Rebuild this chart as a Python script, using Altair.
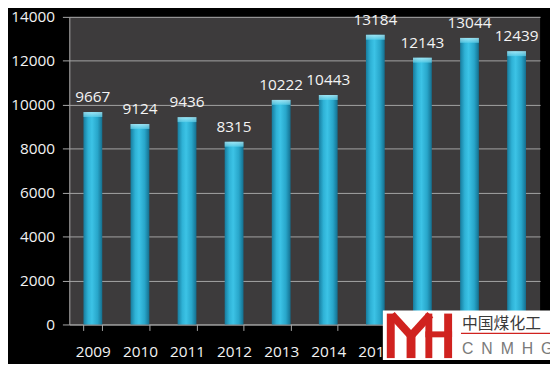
import altair as alt
import pandas as pd

years = ["2009", "2010", "2011", "2012", "2013", "2014", "2015", "2016", "2017", "2018"]
values = [9667, 9124, 9436, 8315, 10222, 10443, 13184, 12143, 13044, 12439]
y_ticks = [0, 2000, 4000, 6000, 8000, 10000, 12000, 14000]

df = pd.DataFrame({"year": years, "value": values})

FONT = "Open Sans"
RED = "#d0221f"

xenc = alt.X(
    "year:O",
    sort=years,
    scale=alt.Scale(paddingInner=0.6, paddingOuter=0.3),
    axis=alt.Axis(
        title=None, labelAngle=0, tickBand="extent", tickSize=6,
        labelPadding=14, labelFontSize=15.5, labelColor="#f2f2f2", labelFont=FONT,
        domainColor="#a9a9a9", tickColor="#a9a9a9", grid=False,
    ),
)
yenc = alt.Y(
    "value:Q",
    scale=alt.Scale(domain=[0, 14000], nice=False),
    axis=alt.Axis(
        title=None, values=y_ticks, format="d", tickSize=7, labelPadding=8,
        labelFontSize=15.5, labelColor="#f2f2f2", labelFont=FONT,
        domainColor="#a9a9a9", tickColor="#a9a9a9",
        grid=True, gridColor="#a4a4a4", gridWidth=1,
    ),
)

base = alt.Chart(df)

bars = base.mark_bar(
    size=19,
    color={
        "gradient": "linear", "x1": 0, "x2": 1, "y1": 0, "y2": 0,
        "stops": [
            {"offset": 0, "color": "#177c9e"},
            {"offset": 0.25, "color": "#2fb2d6"},
            {"offset": 0.45, "color": "#3cc3e6"},
            {"offset": 0.75, "color": "#28a6ca"},
            {"offset": 1, "color": "#146f8f"},
        ],
    },
).encode(x=xenc, y=yenc)

caps = base.mark_tick(
    size=19, thickness=5, yOffset=2.5,
    color={
        "gradient": "linear", "x1": 0, "x2": 0, "y1": 0, "y2": 1,
        "stops": [
            {"offset": 0, "color": "#c8f4fb"},
            {"offset": 1, "color": "#5fd0ea"},
        ],
    },
).encode(x=alt.X("year:O", sort=years), y="value:Q")

labels = base.mark_text(
    font=FONT, fontSize=15.5, color="#f4f4f4", baseline="alphabetic", dy=-10,
).encode(x=alt.X("year:O", sort=years), y="value:Q", text="value:Q")

one = alt.Data(values=[{"k": 0}])

def rect(x, x2, y, y2, color):
    return alt.Chart(one).mark_rect(color=color).encode(
        x=alt.value(x - 70), x2=alt.value(x2 - 70),
        y=alt.value(y - 15), y2=alt.value(y2 - 15),
    )

def rule(x, y, x2, y2, color, w):
    return alt.Chart(one).mark_rule(color=color, strokeWidth=w, strokeCap="butt").encode(
        x=alt.value(x - 70), x2=alt.value(x2 - 70),
        y=alt.value(y - 15), y2=alt.value(y2 - 15),
    )

wm = [
    rect(387, 560, 312, 362, "#ffffff"),
    rect(391, 399, 315, 360, RED),
    rule(396, 316, 416, 338, RED, 8),
    rule(435, 316, 415, 338, RED, 8),
    rect(411, 420, 334, 360, RED),
    rect(430, 437, 315, 360, RED),
    rect(449, 457, 315, 360, RED),
    rect(430, 457, 333, 339, RED),
    rule(466, 335, 558, 335, RED, 1.5),
    alt.Chart(one).mark_text(
        text="中国煤化工", font="Noto Sans CJK SC", fontSize=16, color="#3a3a3a",
        align="left", baseline="alphabetic",
    ).encode(x=alt.value(467 - 70), y=alt.value(331 - 15)),
    alt.Chart(one).mark_text(
        text="C\u2002N\u2002M\u2002H\u2002G", font="Liberation Sans", fontSize=16,
        color="#7a7a7a", align="left", baseline="alphabetic",
    ).encode(x=alt.value(467 - 70), y=alt.value(356 - 15)),
]

chart = alt.layer(bars, caps, labels, *wm).properties(
    width=476, height=311,
    padding={"left": 62, "top": 7, "right": 10, "bottom": 38},
    autosize=alt.AutoSizeParams(type="none"),
).configure(background="#000000").configure_view(fill="#3d3b3c", strokeWidth=0)

chart.save("out.html", embed_options={"renderer": "svg", "actions": False})
